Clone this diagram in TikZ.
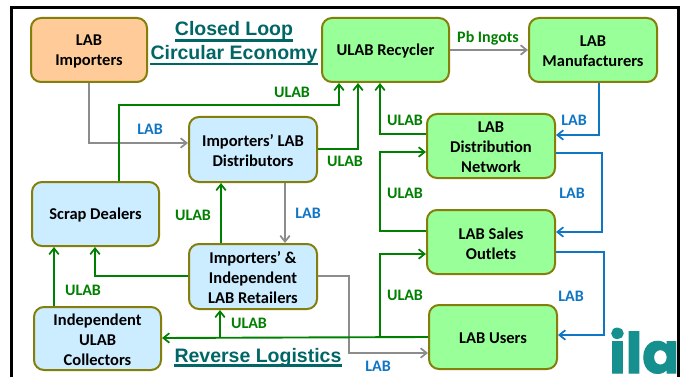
\documentclass[tikz,border=0pt]{standalone}
\usepackage{fontspec}
\setmainfont{Carlito}
\newfontfamily\titlefont{Liberation Sans}
\newfontfamily\logofont[FakeBold=2,BoldFont={Poppins Bold},BoldFeatures={FakeBold=2}]{Poppins}
\usetikzlibrary{arrows.meta}
\definecolor{boxedge}{HTML}{847F0A}
\definecolor{orangefill}{HTML}{FFCC99}
\definecolor{greenfill}{HTML}{99FF99}
\definecolor{bluefill}{HTML}{CCECFF}
\definecolor{flowgreen}{HTML}{008000}
\definecolor{flowblue}{HTML}{0F75C5}
\definecolor{flowgray}{HTML}{8C8C8C}
\definecolor{titleteal}{HTML}{006666}
\definecolor{logoteal}{HTML}{15908F}
\tikzset{
  x=1pt,y=-1pt,
  flowbox/.style={draw=boxedge,line width=2pt,rounded corners=10pt,inner sep=0pt},
  boxtext/.style={align=center,inner sep=0pt,font=\bfseries\fontsize{16.5}{20}\selectfont,text=black},
  orangebox/.style={flowbox,fill=orangefill},
  greenbox/.style={flowbox,fill=greenfill},
  bluebox/.style={flowbox,fill=bluefill},
  arrowline/.style={line width=1.9pt,-{Straight Barb[length=6pt,width=9.5pt,line width=1.7pt]}},
  ga/.style={arrowline,draw=flowgreen},
  ba/.style={arrowline,draw=flowblue},
  ya/.style={arrowline,draw=flowgray},
  gl/.style={text=flowgreen,font=\bfseries\fontsize{16}{18}\selectfont,inner sep=0pt},
  bl/.style={text=flowblue,font=\bfseries\fontsize{16}{18}\selectfont,inner sep=0pt},
  titletext/.style={text=titleteal,font=\titlefont\bfseries\fontsize{19.5}{24}\selectfont,inner sep=0pt},
  under/.style={draw=titleteal,line width=2.6pt},
}
\newcommand{\boxat}[7]{\node[#1,minimum width=#6pt-#4pt,minimum height=#7pt-#5pt,anchor=center] (#2) at ({(#4+#6)/2},{(#5+#7)/2}) {};
  \node[boxtext] (#2text) at ([yshift=-1.5pt]#2.center) {#3};}
\begin{document}
\begin{tikzpicture}
\useasboundingbox (0,0) rectangle (680,377);
\fill[white] (0,0) rectangle (680,377);
% boxes
\boxat{orangebox}{imp}{LAB\\Importers}{31}{18}{147}{82}
\boxat{greenbox}{rec}{ULAB Recycler}{322}{18}{449}{82}
\boxat{greenbox}{man}{LAB\\Manufacturers}{529}{18}{657}{82}
\boxat{bluebox}{dist}{Importers’ LAB\\Distributors}{189}{117}{317}{182}
\boxat{bluebox}{scrap}{Scrap Dealers}{32}{182}{159}{246}
\boxat{bluebox}{ret}{Importers’ \&\\Independent\\LAB Retailers}{189}{244}{317}{309}
\boxat{bluebox}{coll}{Independent\\ULAB\\Collectors}{34}{307}{161}{370}
\boxat{greenbox}{net}{LAB\\Distribution\\Network}{427}{114}{555}{178}
\boxat{greenbox}{sales}{LAB Sales\\Outlets}{427}{210}{555}{274}
\boxat{greenbox}{users}{LAB Users}{429}{305}{557}{369}
% titles
\node[titletext] (t1) at (234,30) {Closed Loop};
\node[titletext] (t2) at (234,54) {Circular Economy};
\node[titletext] (t3) at (258,357) {Reverse Logistics};
\draw[under] (t1.south west |- 0,40.5) -- (t1.south east |- 0,40.5);
\draw[under] (t2.south west |- 0,64) -- (t2.south east |- 0,64);
\draw[under] (t3.south west |- 0,365.5) -- (t3.south east |- 0,365.5);
% gray
\draw[ya] (imp.south -| 89,0) -- (89,143) -- (dist.west |- 0,143);
\draw[ya] (rec.east |- 0,50) -- (man.west |- 0,50);
\draw[ya] (dist.south -| 285,0) -- (ret.north -| 285,0);
\draw[ya] (ret.east |- 0,276) -- (349,276) -- (349,353) -- (users.west |- 0,353);
% green
\draw[ga] (scrap.north -| 119,0) -- (119,105) -- (339,105) -- (rec.south -| 339,0);
\draw[ga] (dist.east |- 0,149) -- (358,149) -- (rec.south -| 358,0);
\draw[ga] (net.west |- 0,134) -- (380,134) -- (rec.south -| 380,0);
\draw[ga] (sales.west |- 0,231) -- (380,231) -- (380,152) -- (net.west |- 0,152);
\draw[ga] (380,337) -- (380,254) -- (sales.west |- 0,254);
\draw[ga] (users.west |- 0,337) -- (coll.east |- 0,338);
\draw[ga] (220,338) -- (ret.south -| 220,0);
\draw[ga] (ret.north -| 221,0) -- (dist.south -| 221,0);
\draw[ga] (ret.west |- 0,276) -- (95,276) -- (scrap.south -| 95,0);
\draw[ga] (coll.north -| 54,0) -- (scrap.south -| 54,0);
% blue
\draw[ba] (man.south -| 599,0) -- (599,135) -- (net.east |- 0,135);
\draw[ba] (net.east |- 0,153) -- (602,153) -- (602,232) -- (sales.east |- 0,232);
\draw[ba] (sales.east |- 0,252) -- (604,252) -- (604,335) -- (users.east |- 0,335);
% labels
\node[gl] (l1) at (292,92) {ULAB};
\node[bl] (l2) at (150,129) {LAB};
\node[gl] (l3) at (345,161) {ULAB};
\node[gl] (l4) at (488,38) {Pb Ingots};
\node[bl] (l5) at (574,120) {LAB};
\node[gl] (l6) at (405,120) {ULAB};
\node[gl] (l7) at (405,193) {ULAB};
\node[bl] (l8) at (572,193) {LAB};
\node[gl] (l9) at (193,215) {ULAB};
\node[bl] (l10) at (308,213) {LAB};
\node[gl] (l11) at (405,295) {ULAB};
\node[bl] (l12) at (571,296) {LAB};
\node[gl] (l13) at (83,290) {ULAB};
\node[gl] (l14) at (249,323) {ULAB};
\node[bl] (l15) at (378,366) {LAB};
% logo
\begin{scope}
\clip (0,0) rectangle (676,377);
\node[inner sep=0pt,text=logoteal,font=\logofont\bfseries\fontsize{56}{56}\selectfont,anchor=base west] (logo) at (609,373) {ila};
\end{scope}
% frame
\draw[black,line width=3pt] (11.5,377) -- (11.5,8) -- (678,8) -- (678,377);
\end{tikzpicture}
\end{document}
